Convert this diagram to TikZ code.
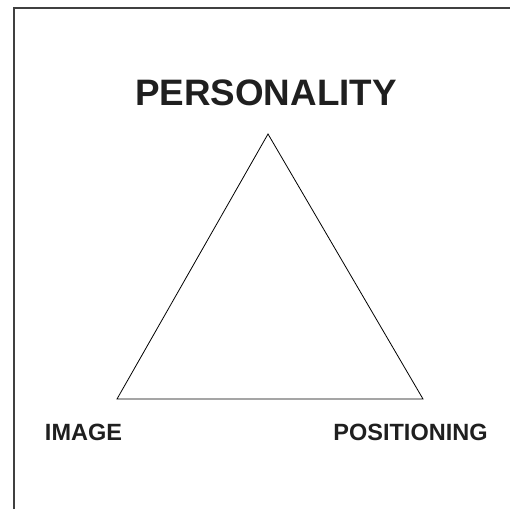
\documentclass[tikz,border=0pt]{standalone}
\usepackage{fontspec}
\setmainfont{Liberation Sans}
\begin{document}
\begin{tikzpicture}[x=1pt,y=-1pt,
  lbl/.style={inner sep=0pt, anchor=base, font=\bfseries\fontsize{23.5}{26}\selectfont, text=black!88},
  bigl/.style={inner sep=0pt, anchor=base, font=\bfseries\fontsize{36.8}{40}\selectfont, text=black!88},
  tri/.style={draw=black, line width=0.8pt, line join=miter}]
\useasboundingbox (0,0) rectangle (510,509);
\draw[line width=1.3pt, draw=black!75] (14,509) -- (14,8) -- (510,8);
\node[bigl] (pers) at (266,105) {PERSONALITY};
\node[lbl] (img) at (83.5,440) {IMAGE};
\node[lbl] (pos) at (410.5,440) {POSITIONING};
\coordinate (top) at (268,134);
\coordinate (bl) at (117,399);
\coordinate (br) at (423,399);
\draw[tri] (top) -- (bl) -- (br) -- cycle;
\end{tikzpicture}
\end{document}
